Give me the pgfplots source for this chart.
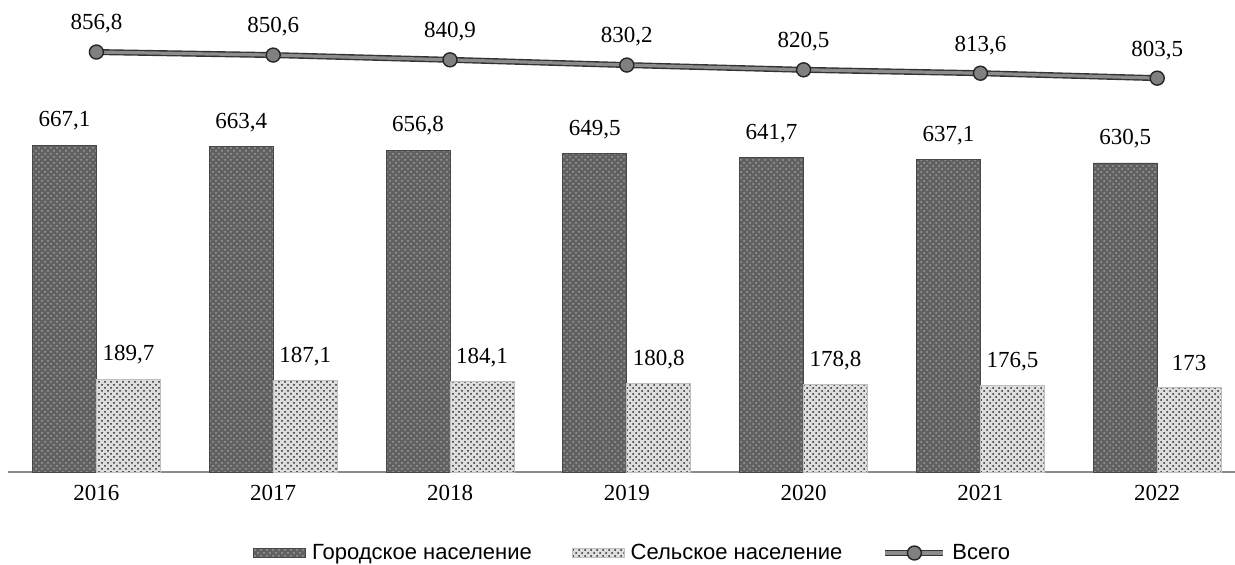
\documentclass[border=0pt]{standalone}
\usepackage{pgfplots}
\pgfplotsset{compat=1.18}
\usepackage{fontspec}
\setmainfont{Liberation Serif}
\newfontfamily\legfont{Liberation Sans}
\usetikzlibrary{patterns}

\pgfplotsset{
    barleg/.style={legend image code/.code={\draw[##1] (0pt,-2.2pt) rectangle (26pt,2.2pt);}},
    lineleg/.style={legend image code/.code={
        \draw[black!80, line width=3pt] (0pt,0pt) -- (29pt,0pt);
        \draw[##1] (0pt,0pt) -- (29pt,0pt);
        \draw[##1] plot coordinates {(14.5pt,0pt)};}},
}

\pgfplotstableread{
x year urban rural total
0 2016 667.1 189.7 856.8
1 2017 663.4 187.1 850.6
2 2018 656.8 184.1 840.9
3 2019 649.5 180.8 830.2
4 2020 641.7 178.8 820.5
5 2021 637.1 176.5 813.6
6 2022 630.5 173.0 803.5
}\datatable

\begin{document}
\begin{tikzpicture}
\begin{axis}[
    at={(0,0)}, anchor=south west,
    scale only axis,
    width=613.5pt, height=236pt,
    xmin=-0.5, xmax=6.44,
    ymin=0, ymax=963,
    clip=false,
    axis x line=bottom,
    axis y line=none,
    x axis line style={-, draw=black!45, line width=0.6pt},
    xtick={0,...,6},
    xticklabels={2016,2017,2018,2019,2020,2021,2022},
    major tick length=0pt,
    xticklabel style={font=\fontsize{11.5}{13}\selectfont, yshift=-3pt},
    /pgf/number format/.cd, use comma, fixed, precision=1,
        set thousands separator={}, assume math mode=true,
    /pgfplots/.cd,
    every node near coord/.append style={font=\fontsize{11.5}{13}\selectfont, anchor=center, black},
    legend columns=3,
    legend style={at={(0.510,-0.1716)}, anchor=center, draw=none, fill=none,
        font=\legfont\fontsize{11}{13}\selectfont,
        /tikz/every even column/.append style={column sep=18pt},
        /tikz/every odd column/.append style={column sep=1pt}},
]

% городское население
\addplot[ybar, bar width=32pt, bar shift=-16pt,
    fill=black!62, draw=black!72,
    postaction={pattern=crosshatch dots, pattern color=black!38},
    nodes near coords,
    every node near coord/.append style={xshift=-16pt, yshift=12pt},
    barleg]
    table[x=x, y=urban]{\datatable};
\addlegendentry{Городское население}

% сельское население
\addplot[ybar, bar width=32pt, bar shift=16pt,
    fill=black!13, draw=black!25,
    postaction={pattern=crosshatch dots, pattern color=black!85},
    nodes near coords,
    every node near coord/.append style={xshift=16pt, yshift=12pt},
    barleg]
    table[x=x, y=rural]{\datatable};
\addlegendentry{Сельское население}

% всего
\addplot[black!80, line width=3pt, forget plot] table[x=x, y=total]{\datatable};
\addplot[black!45, line width=1.6pt, mark=*, mark size=3.5pt,
    mark options={fill=black!50, draw=black!85, line width=0.7pt},
    nodes near coords,
    every node near coord/.append style={yshift=14pt},
    lineleg]
    table[x=x, y=total]{\datatable};
\addlegendentry{Всего}

\end{axis}
\pgfresetboundingbox
\path (-4pt,-46.5pt) rectangle (613.5pt,236pt);
\end{tikzpicture}
\end{document}
